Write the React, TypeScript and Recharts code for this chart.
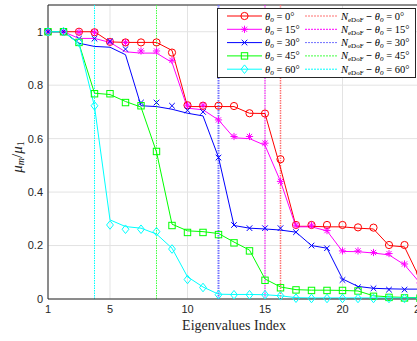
import React from 'react';
import { ComposedChart, Line, XAxis, YAxis, CartesianGrid, ReferenceLine, Legend } from 'recharts';

const indices = [1, 2, 3, 4, 5, 6, 7, 8, 9, 10, 11, 12, 13, 14, 15, 16, 17, 18, 19, 20, 21, 22, 23, 24, 25];
const angles = ['0', '15', '30', '45', '60'];
const colors = ['#ff0000', '#ff00ff', '#0000ff', '#00ff00', '#00ffff'];
const refColors = ['#ff7070', '#ff00ff', '#7070ff', '#40ff40', '#00ffff'];
const shapes = ['circle', 'star', 'cross', 'square', 'diamond'];
const nEDoF = [16, 15, 12, 8, 4];
const xTicks = [1, 5, 10, 15, 20, 25];
const yTicks = [0, 0.2, 0.4, 0.6, 0.8, 1];

// markers
const mk0 = [1, 1, 1.0, 0.998, 0.962, 0.96, 0.96, 0.96, 0.922, 0.725, 0.723, 0.723, 0.722, 0.695, 0.694, 0.523, 0.277, 0.277, 0.277, 0.277, 0.268, 0.267, 0.202, 0.202, 0.1];
const mk15 = [1, 1, 0.998, 0.998, 0.962, 0.96, 0.928, 0.928, 0.893, 0.725, 0.725, 0.67, 0.608, 0.608, 0.583, 0.44, 0.276, 0.276, 0.256, 0.18, 0.18, 0.174, 0.17, 0.131, 0.06];
const mk30 = [1, 1, 0.974, 0.974, 0.964, 0.935, 0.735, 0.735, 0.723, 0.706, 0.7, 0.529, 0.277, 0.265, 0.265, 0.265, 0.25, 0.2, 0.19, 0.071, 0.044, 0.04, 0.035, 0.035, 0.035];
const mk45 = [1, 1, 0.96, 0.768, 0.768, 0.735, 0.723, 0.552, 0.275, 0.249, 0.249, 0.241, 0.21, 0.18, 0.07, 0.042, 0.034, 0.032, 0.032, 0.032, 0.03, 0.01, 0.006, 0.004, 0.003];
const mk60 = [1, 1, 0.96, 0.723, 0.277, 0.261, 0.261, 0.252, 0.187, 0.073, 0.043, 0.016, 0.016, 0.016, 0.016, 0.012, 0.003, 0.002, 0.002, 0.002, 0.002, 0.002, 0.002, 0.002, 0.002];

// lines
const ln0 = [1, 1, 1.0, 1.0, 0.962, 0.96, 0.96, 0.96, 0.93, 0.72, 0.72, 0.72, 0.72, 0.695, 0.694, 0.49, 0.272, 0.272, 0.27, 0.27, 0.265, 0.262, 0.2, 0.195, 0.075];
const ln15 = [1, 1, 0.975, 0.975, 0.96, 0.925, 0.92, 0.92, 0.885, 0.714, 0.708, 0.67, 0.603, 0.6, 0.575, 0.44, 0.27, 0.27, 0.255, 0.178, 0.177, 0.172, 0.165, 0.128, 0.06];
const ln30 = [1, 1, 0.957, 0.945, 0.942, 0.914, 0.723, 0.72, 0.71, 0.695, 0.685, 0.53, 0.275, 0.265, 0.262, 0.258, 0.25, 0.2, 0.19, 0.075, 0.047, 0.04, 0.038, 0.037, 0.037];
const ln45 = [1, 1, 0.955, 0.77, 0.765, 0.739, 0.718, 0.55, 0.28, 0.255, 0.252, 0.245, 0.213, 0.183, 0.075, 0.045, 0.035, 0.033, 0.033, 0.032, 0.03, 0.012, 0.008, 0.006, 0.005];
const ln60 = [1, 1, 0.955, 0.72, 0.296, 0.271, 0.265, 0.243, 0.19, 0.083, 0.045, 0.018, 0.017, 0.017, 0.016, 0.012, 0.005, 0.004, 0.004, 0.004, 0.004, 0.004, 0.004, 0.004, 0.004];

const markerSets = [mk0, mk15, mk30, mk45, mk60];
const lineSets = [ln0, ln15, ln30, ln45, ln60];

const data = indices.map((x, i) => {
  const row: any = { x };
  angles.forEach((a, k) => {
    row['m' + a] = markerSets[k][i];
    row['l' + a] = lineSets[k][i];
  });
  return row;
});

const AXIS = '#262626';
const SERIF = '"Liberation Serif", "DejaVu Serif", serif';
const SANS = '"Liberation Sans", Arial, sans-serif';

function Marker({ shape, color, cx, cy }: any) {
  if (cx == null || cy == null) return null;
  const sw = 1;
  switch (shape) {
    case 'circle':
      return <circle cx={cx} cy={cy} r={3.6} fill="none" stroke={color} strokeWidth={sw} />;
    case 'star': {
      const s = 3.6, d = 2.6;
      return (
        <g stroke={color} strokeWidth={sw}>
          <line x1={cx - s} y1={cy} x2={cx + s} y2={cy} />
          <line x1={cx} y1={cy - s} x2={cx} y2={cy + s} />
          <line x1={cx - d} y1={cy - d} x2={cx + d} y2={cy + d} />
          <line x1={cx - d} y1={cy + d} x2={cx + d} y2={cy - d} />
        </g>
      );
    }
    case 'cross': {
      const d = 2.8;
      return (
        <g stroke={color} strokeWidth={sw}>
          <line x1={cx - d} y1={cy - d} x2={cx + d} y2={cy + d} />
          <line x1={cx - d} y1={cy + d} x2={cx + d} y2={cy - d} />
        </g>
      );
    }
    case 'square':
      return <rect x={cx - 3.2} y={cy - 3.2} width={6.4} height={6.4} fill="none" stroke={color} strokeWidth={sw} />;
    case 'diamond':
      return (
        <path d={`M${cx},${cy - 4.3}L${cx + 3.4},${cy}L${cx},${cy + 4.3}L${cx - 3.4},${cy}Z`} fill="none" stroke={color} strokeWidth={sw} />
      );
    default:
      return null;
  }
}

const makeDot = (shape: string, color: string) => (p: any) => (
  <g key={`d-${shape}-${p.index}`}>
    <Marker shape={shape} color={color} cx={p.cx} cy={p.cy} />
  </g>
);

const Theta = ({ fs }: any) => (
  <>
    <tspan fontStyle="italic">θ</tspan>
    <tspan fontStyle="italic" fontSize={fs * 0.7} dy={2}>o</tspan>
  </>
);

const LegendBox = () => (
  <svg width={199} height={70} style={{ display: 'block' }}>
    <rect x={0.5} y={0.5} width={198} height={69} fill="#ffffff" stroke={AXIS} strokeWidth={1} />
    {angles.map((a, i) => {
      const y = 8 + i * 13.3;
      return (
        <g key={a}>
          <line x1={10} x2={45} y1={y} y2={y} stroke={colors[i]} strokeWidth={1} />
          <Marker shape={shapes[i]} color={colors[i]} cx={27.5} cy={y} />
          <text x={48} y={y + 3.5} fontSize={10.5} fontFamily={SERIF} fill="#000">
            <Theta fs={10.5} />
            <tspan dy={-2}>{` = ${a}°`}</tspan>
          </text>
          <line x1={88} x2={120} y1={y} y2={y} stroke={refColors[i]} strokeWidth={1} strokeDasharray="2 1" />
          <text x={124} y={y + 3.5} fontSize={10.5} fontFamily={SERIF} fill="#000">
            <tspan fontStyle="italic">N</tspan>
            <tspan fontSize={7} dy={2}>eDoF</tspan>
            <tspan dy={-2} fontWeight="bold">{' − '}</tspan>
            <Theta fs={10.5} />
            <tspan dy={-2}>{` = ${a}°`}</tspan>
          </text>
        </g>
      );
    })}
  </svg>
);

const XLabel = (props: any) => {
  const vb = props.viewBox || { x: 48, y: 299, width: 372 };
  return (
    <text x={vb.x + vb.width / 2} y={vb.y + 31} textAnchor="middle" fontSize={14} fontFamily={SERIF} fill={AXIS}>
      Eigenvalues Index
    </text>
  );
};

const YLabel = (props: any) => {
  const vb = props.viewBox || { x: 0, y: 5, height: 294 };
  const cy = vb.y + vb.height / 2 + 5;
  return (
    <text transform={`translate(22, ${cy}) rotate(-90)`} textAnchor="middle" fontSize={15} fontFamily={SERIF} fill={AXIS}>
      <tspan fontStyle="italic">μ</tspan>
      <tspan fontStyle="italic" fontSize={10} dy={2}>m</tspan>
      <tspan dy={-2}>/</tspan>
      <tspan fontStyle="italic">μ</tspan>
      <tspan fontSize={10} dy={2}>1</tspan>
    </text>
  );
};

export default function App() {
  return (
    <div style={{ position: 'absolute', left: 0, top: 0, width: 417, height: 341, overflow: 'hidden', background: '#fff' }}>
      <ComposedChart width={430} height={341} data={data} margin={{ top: 5, right: 10, bottom: 0, left: 0 }}>
        <CartesianGrid stroke="#e3e3e3" strokeWidth={1} />
        <XAxis
          type="number"
          dataKey="x"
          domain={[1, 25]}
          ticks={xTicks}
          height={42}
          tickSize={3}
          tickMargin={3}
          tickLine={false}
          axisLine={{ stroke: AXIS }}
          tick={{ fill: AXIS, fontSize: 11, fontFamily: SANS }}
          label={XLabel}
        />
        <YAxis
          type="number"
          domain={[0, 1.1]}
          ticks={yTicks}
          width={48}
          tickSize={3}
          tickMargin={2}
          tickLine={false}
          axisLine={{ stroke: AXIS }}
          tick={{ fill: AXIS, fontSize: 11, fontFamily: SANS }}
          label={YLabel}
        />
        <ReferenceLine y={1.1} stroke={AXIS} strokeWidth={1} />
        {angles.map((a, i) => (
          <ReferenceLine
            key={'ref' + a}
            x={nEDoF[i]}
            stroke={refColors[i]}
            strokeWidth={i === 2 ? 2 : i === 0 ? 1.5 : 1}
            strokeDasharray="1.5 1"
          />
        ))}
        {angles.map((a, i) => (
          <Line
            key={'l' + a}
            type="linear"
            dataKey={'l' + a}
            stroke={colors[i]}
            strokeWidth={1}
            dot={false}
            activeDot={false}
            isAnimationActive={false}
            legendType="none"
          />
        ))}
        {angles.map((a, i) => (
          <Line
            key={'m' + a}
            type="linear"
            dataKey={'m' + a}
            stroke="none"
            dot={makeDot(shapes[i], colors[i])}
            activeDot={false}
            isAnimationActive={false}
            legendType="none"
          />
        ))}
        <Legend
          layout="horizontal"
          verticalAlign="middle"
          align="center"
          content={() => <LegendBox />}
          wrapperStyle={{ position: 'absolute', left: 217, top: 8, width: 199, height: 70 }}
        />
      </ComposedChart>
    </div>
  );
}
